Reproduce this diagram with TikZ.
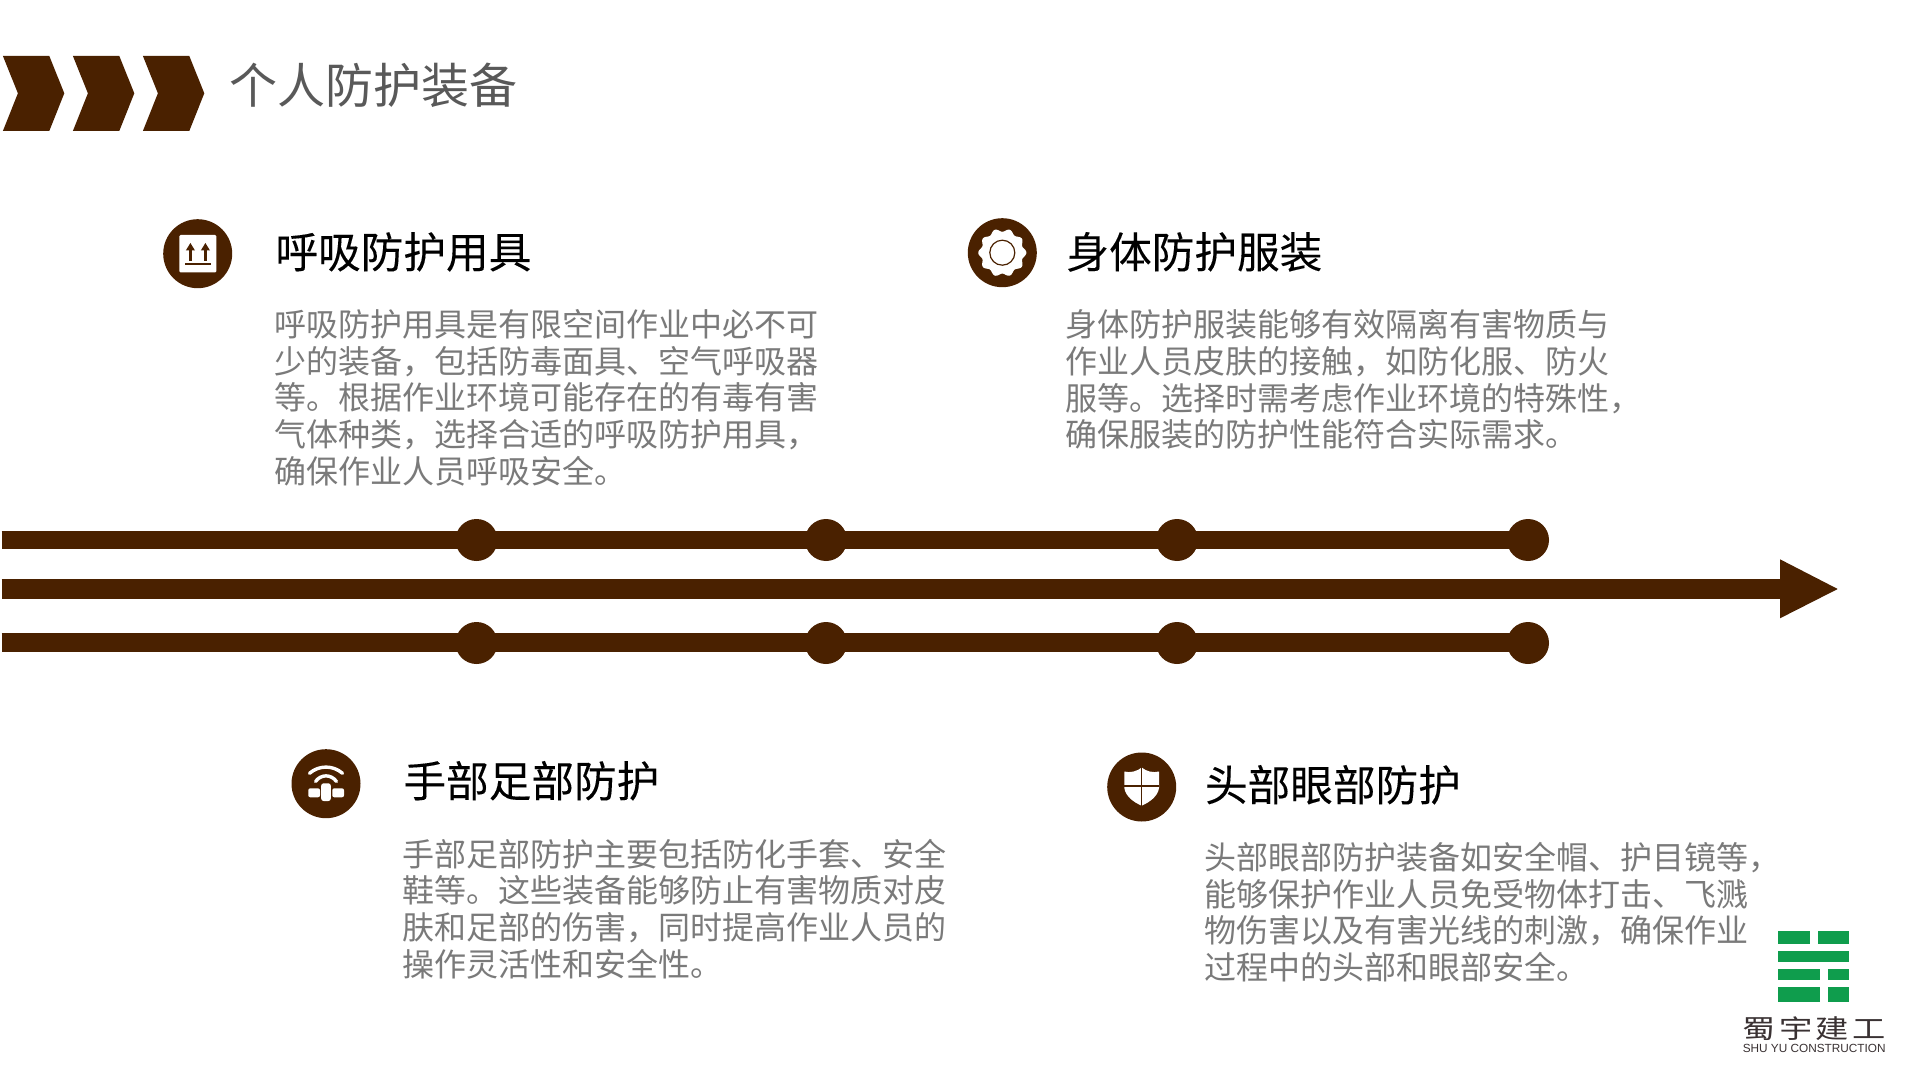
\documentclass[tikz,border=0pt]{standalone}
\usepackage{fontspec}
\setmainfont{Noto Sans CJK SC}
\newfontfamily\logolatin{Liberation Sans}
\newfontfamily\headfont[FakeBold=0.12]{Noto Sans CJK SC}
\newfontfamily\logocjk[FakeStretch=1.28]{Noto Sans CJK SC}
\definecolor{brownmain}{HTML}{4A2100}
\definecolor{titlegray}{HTML}{595959}
\definecolor{bodygray}{HTML}{7A7A7A}
\definecolor{logogreen}{HTML}{0F9D4D}
\definecolor{logodark}{HTML}{3A3233}
\tikzset{
  titletext/.style={anchor=base west,inner sep=0pt,text=titlegray,font=\fontsize{24}{28}\selectfont},
  headtext/.style={anchor=base west,inner sep=0pt,text=black,font=\headfont\fontsize{21.33}{26}\selectfont},
  bodytext/.style={anchor=north west,inner sep=0pt,text=bodygray,align=left,font=\fontsize{16}{18.33}\selectfont},
  dot/.style={circle,fill=brownmain,inner sep=0pt,minimum size=21pt},
  iconbg/.style={circle,fill=brownmain,inner sep=0pt,minimum size=34.5pt},
  rail/.style={draw=brownmain,line width=9.4pt},
  logobar/.style={fill=logogreen,draw=none},
}
\begin{document}
\begin{tikzpicture}[x=0.5pt,y=-0.5pt]
\useasboundingbox[fill=white] (0,0) rectangle (1920,1080);
% chevrons
\foreach \d in {0,70,140}{
  \fill[brownmain,shift={(\d*0.5pt,0)}] (2.9,56) -- (49.3,56) -- (64.3,93.3) -- (49.3,131) -- (2.9,131) -- (17.9,93.3) -- cycle;
}
\node[titletext] (title) at (229,104) {个人防护装备};
% rails
\coordinate (ts) at (1.5,540);
\coordinate (ms) at (1.5,589);
\coordinate (ms2) at (1781,589);
\coordinate (bs) at (1.5,642.5);
\draw[rail] (ts) -- (1528,540) coordinate (te);
\draw[rail] (bs) -- (1528,642.5) coordinate (be);
\draw[draw=brownmain,line width=10.1pt] (ms) -- (ms2);
\fill[brownmain] (1780,559.3) -- (1837.7,589) -- (1780,618.3) -- cycle;
\foreach \i/\xx in {1/476.5,2/826,3/1177,4/1528}{
  \node[dot] (t\i) at (\xx,540) {};
  \node[dot] (b\i) at (\xx,643) {};
}
% icon 1
\node[iconbg] (ic1) at (197.7,253.7) {};
\fill[white,rounded corners=0.6pt] (179.3,235) rectangle (216.4,272.3);
\draw[brownmain,line width=1.1pt] (190.4,247) -- (190.4,260.7);
\draw[brownmain,line width=1.1pt] (205.4,247) -- (205.4,260.7);
\fill[brownmain] (190.4,243) -- (195,250.5) -- (185.8,250.5) -- cycle;
\fill[brownmain] (205.4,243) -- (210,250.5) -- (200.8,250.5) -- cycle;
\draw[brownmain,line width=1.1pt] (185,264.2) -- (210.7,264.2);
% icon 2
\node[iconbg] (ic2) at (1002.3,252.7) {};
\fill[white] plot[domain=0:360,samples=120,smooth] ({1002.3+(22.5+1.6*cos(10*\x))*cos(\x)},{252.7+(22.5+1.6*cos(10*\x))*sin(\x)}) -- cycle;
\node[circle,draw=brownmain,line width=0.6pt,fill=white,inner sep=0pt,minimum size=12.5pt] (ic2c) at (1002.3,252.7) {};
% icon 3
\node[iconbg] (ic3) at (326,783.7) {};
\draw[white,line width=1.7pt,line cap=round] (309.5,773.3) .. controls (319,765) and (333,765) .. (342.5,773.3);
\draw[white,line width=1.7pt,line cap=round] (315.5,781.5) .. controls (321,774) and (331,774) .. (336.5,781.5);
\fill[white,rounded corners=1pt] (308.3,788.3) rectangle (320,797.3);
\fill[white,rounded corners=1pt] (332.3,788.3) rectangle (344,797.3);
\fill[white,rounded corners=1.2pt] (321.2,783.3) rectangle (330.8,801);
% icon 4
\node[iconbg] (ic4) at (1141.7,787) {};
\fill[white] (1124.3,771.5) .. controls (1130,773) and (1137,771.5) .. (1141.7,767.5) .. controls (1146.4,771.5) and (1153,773) .. (1159,771.5) -- (1159,788) .. controls (1158,796) and (1150,802) .. (1141.7,805.7) .. controls (1133,802) and (1125.5,796) .. (1124.3,788) -- cycle;
\draw[brownmain,line width=0.6pt] (1141.7,767) -- (1141.7,806);
\draw[brownmain,line width=0.6pt] (1124,786) -- (1159.3,786);
% headings
\node[headtext] (h1) at (275,268) {呼吸防护用具};
\node[headtext] (h2) at (1066,268) {身体防护服装};
\node[headtext] (h3) at (403,797) {手部足部防护};
\node[headtext] (h4) at (1204.5,801) {头部眼部防护};
% bodies
\node[bodytext] (p1) at (274,309.2) {呼吸防护用具是有限空间作业中必不可\\少的装备，包括防毒面具、空气呼吸器\\等。根据作业环境可能存在的有毒有害\\气体种类，选择合适的呼吸防护用具，\\确保作业人员呼吸安全。};
\node[bodytext] (p2) at (1065,309.2) {身体防护服装能够有效隔离有害物质与\\作业人员皮肤的接触，如防化服、防火\\服等。选择时需考虑作业环境的特殊性，\\确保服装的防护性能符合实际需求。};
\node[bodytext] (p3) at (402.5,838.5) {手部足部防护主要包括防化手套、安全\\鞋等。这些装备能够防止有害物质对皮\\肤和足部的伤害，同时提高作业人员的\\操作灵活性和安全性。};
\node[bodytext] (p4) at (1204.5,842) {头部眼部防护装备如安全帽、护目镜等，\\能够保护作业人员免受物体打击、飞溅\\物伤害以及有害光线的刺激，确保作业\\过程中的头部和眼部安全。};
% logo
\fill[logobar] (1778.3,931.3) rectangle (1810.3,943.7);
\fill[logobar] (1817.7,931.3) rectangle (1849.3,943.7);
\fill[logobar] (1778.3,951) rectangle (1849.3,962);
\fill[logobar] (1778.3,969) rectangle (1820.3,980.3);
\fill[logobar] (1827.7,969) rectangle (1849.3,980.3);
\fill[logobar] (1778.3,987.3) rectangle (1820.3,1002.3);
\fill[logobar] (1827.7,987.3) rectangle (1849.3,1002.3);
\node[inner sep=0pt,text=logodark,font=\logocjk\fontsize{13}{14}\selectfont] (lg1) at (1814.2,1029) {蜀\hspace{1.6pt}宇\hspace{1.6pt}建\hspace{1.6pt}工};
\node[inner sep=0pt,text=logodark,font=\logolatin\fontsize{5.9}{7}\selectfont] (lg2) at (1814.2,1048.5) {SHU YU CONSTRUCTION};
\end{tikzpicture}
\end{document}
